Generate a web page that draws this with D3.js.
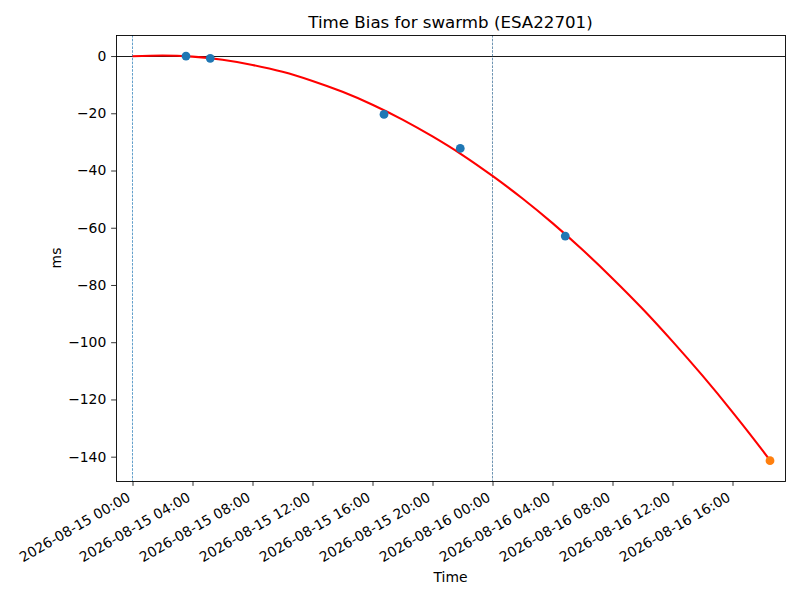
<!DOCTYPE html>
<html><head><meta charset="utf-8">
<script src="https://cdn.jsdelivr.net/npm/d3@7"></script>
<style>
body{margin:0;background:#fff;}
text{font-family:"DejaVu Sans",sans-serif;fill:#000;}
</style></head>
<body><svg id="c" width="800" height="600"></svg>
<script>
// Observations (blue) and last prediction point (orange)
const obsTimes = ["2026-08-15T03:34","2026-08-15T05:11","2026-08-15T16:46","2026-08-15T21:51","2026-08-16T04:51"];
const obsValues = [0.0, -0.8, -20.4, -32.3, -62.9];
const lastTime = ["2026-08-16T18:30"];
const lastValue = [-141.4];
// Fitted curve (red)
const fitTimes = ["2026-08-15T00:00","2026-08-15T02:00","2026-08-15T04:00","2026-08-15T06:00","2026-08-15T08:00","2026-08-15T10:00","2026-08-15T12:00","2026-08-15T14:00","2026-08-15T16:00","2026-08-15T18:00","2026-08-15T20:00","2026-08-15T22:00","2026-08-16T00:00","2026-08-16T02:00","2026-08-16T04:00","2026-08-16T06:00","2026-08-16T08:00","2026-08-16T10:00","2026-08-16T12:00","2026-08-16T14:00","2026-08-16T16:00","2026-08-16T18:00","2026-08-16T18:30"];
const fitValues = [-0.1, 0.2, -0.2, -1.3, -3.1, -5.5, -8.7, -12.5, -17.0, -22.2, -28.1, -34.6, -41.9, -49.8, -58.4, -67.7, -77.7, -88.3, -99.7, -111.7, -124.4, -137.8, -141.3];
// Vertical markers
const vlineTimes = ["2026-08-15T00:00","2026-08-16T00:00"];
const yTicks = [0,-20,-40,-60,-80,-100,-120,-140];
const xTickTimes = ["2026-08-15T00:00","2026-08-15T04:00","2026-08-15T08:00","2026-08-15T12:00","2026-08-15T16:00","2026-08-15T20:00","2026-08-16T00:00","2026-08-16T04:00","2026-08-16T08:00","2026-08-16T12:00","2026-08-16T16:00"];
const xDomain = ["2026-08-14T22:54","2026-08-16T19:30"];
const yDomain = [-148.5, 7.35];

const parse = d3.timeParse("%Y-%m-%dT%H:%M");
const fmt = d3.timeFormat("%Y-%m-%d %H:%M");
const L=116, T=35, W=669, H=446;
const svg = d3.select("#c");
const x = d3.scaleTime().domain(xDomain.map(parse)).range([L, L+W]);
const y = d3.scaleLinear().domain(yDomain).range([T+H, T]);
const minus = s => String(s).replace("-", "\u2212");

// title
svg.append("text").attr("x", L+W/2).attr("y", 28).attr("text-anchor","middle")
  .style("font-size","16.67px").text("Time Bias for swarmb (ESA22701)");

svg.append("defs").append("clipPath").attr("id","clp")
  .append("rect").attr("x",L).attr("y",T).attr("width",W).attr("height",H);
const g = svg.append("g").attr("clip-path","url(#clp)");

// horizontal zero line
g.append("line").attr("x1",L).attr("x2",L+W).attr("y1",Math.round(y(0))+0.5).attr("y2",Math.round(y(0))+0.5)
  .attr("stroke","#000").attr("stroke-width",0.9);
// vertical dashed lines
const vcols = ["#1f77b4","#2f6590"];
vlineTimes.forEach((t,i)=>{
  const xv = x(parse(t));
  g.append("line").attr("x1",xv).attr("x2",xv).attr("y1",T).attr("y2",T+H)
    .attr("stroke",vcols[i]).attr("stroke-width",0.7).attr("stroke-dasharray","2.6,1.2");
});
// fit curve
const fitData = fitTimes.map((t,i)=>({t:parse(t), v:fitValues[i]}));
g.append("path").datum(fitData)
  .attr("d", d3.line().x(d=>x(d.t)).y(d=>y(d.v)).curve(d3.curveMonotoneX))
  .attr("fill","none").attr("stroke","#ff0000").attr("stroke-width",2.08);
// points
const obs = obsTimes.map((t,i)=>({t:parse(t), v:obsValues[i]}));
g.selectAll("circle.o").data(obs).join("circle").attr("class","o")
  .attr("cx",d=>x(d.t)).attr("cy",d=>y(d.v)).attr("r",4.4).attr("fill","#1f77b4");
const last = lastTime.map((t,i)=>({t:parse(t), v:lastValue[i]}));
g.selectAll("circle.l").data(last).join("circle").attr("class","l")
  .attr("cx",d=>x(d.t)).attr("cy",d=>y(d.v)).attr("r",4.4).attr("fill","#ff7f0e");

// frame
svg.append("rect").attr("x",L+0.5).attr("y",T+0.5).attr("width",W).attr("height",H)
  .attr("fill","none").attr("stroke","#000").attr("stroke-width",0.9);

// x axis
const xa = svg.append("g").attr("transform",`translate(0,${T+H})`)
  .call(d3.axisBottom(x).tickValues(xTickTimes.map(parse)).tickFormat(fmt).tickSize(4.86).tickPadding(3.5));
xa.select(".domain").remove();
xa.selectAll(".tick line").attr("stroke","#000").attr("stroke-width",0.8);
xa.selectAll(".tick text").style("font-size","13.9px").attr("font-family","DejaVu Sans")
  .attr("text-anchor","end").attr("y",0).attr("dy",0)
  .attr("transform","translate(-1.5,19) rotate(-30)");

// y axis
const ya = svg.append("g").attr("transform",`translate(${L},0)`)
  .call(d3.axisLeft(y).tickValues(yTicks).tickFormat(minus).tickSize(4.86).tickPadding(4.86));
ya.select(".domain").remove();
ya.selectAll(".tick line").attr("stroke","#000").attr("stroke-width",0.8);
ya.selectAll(".tick text").style("font-size","13.9px").attr("font-family","DejaVu Sans");

// axis labels
svg.append("text").attr("x",L+W/2).attr("y",582).attr("text-anchor","middle")
  .style("font-size","13.9px").text("Time");
svg.append("text").attr("transform",`translate(61,${T+H/2}) rotate(-90)`).attr("text-anchor","middle")
  .style("font-size","13.9px").text("ms");
</script></body></html>
